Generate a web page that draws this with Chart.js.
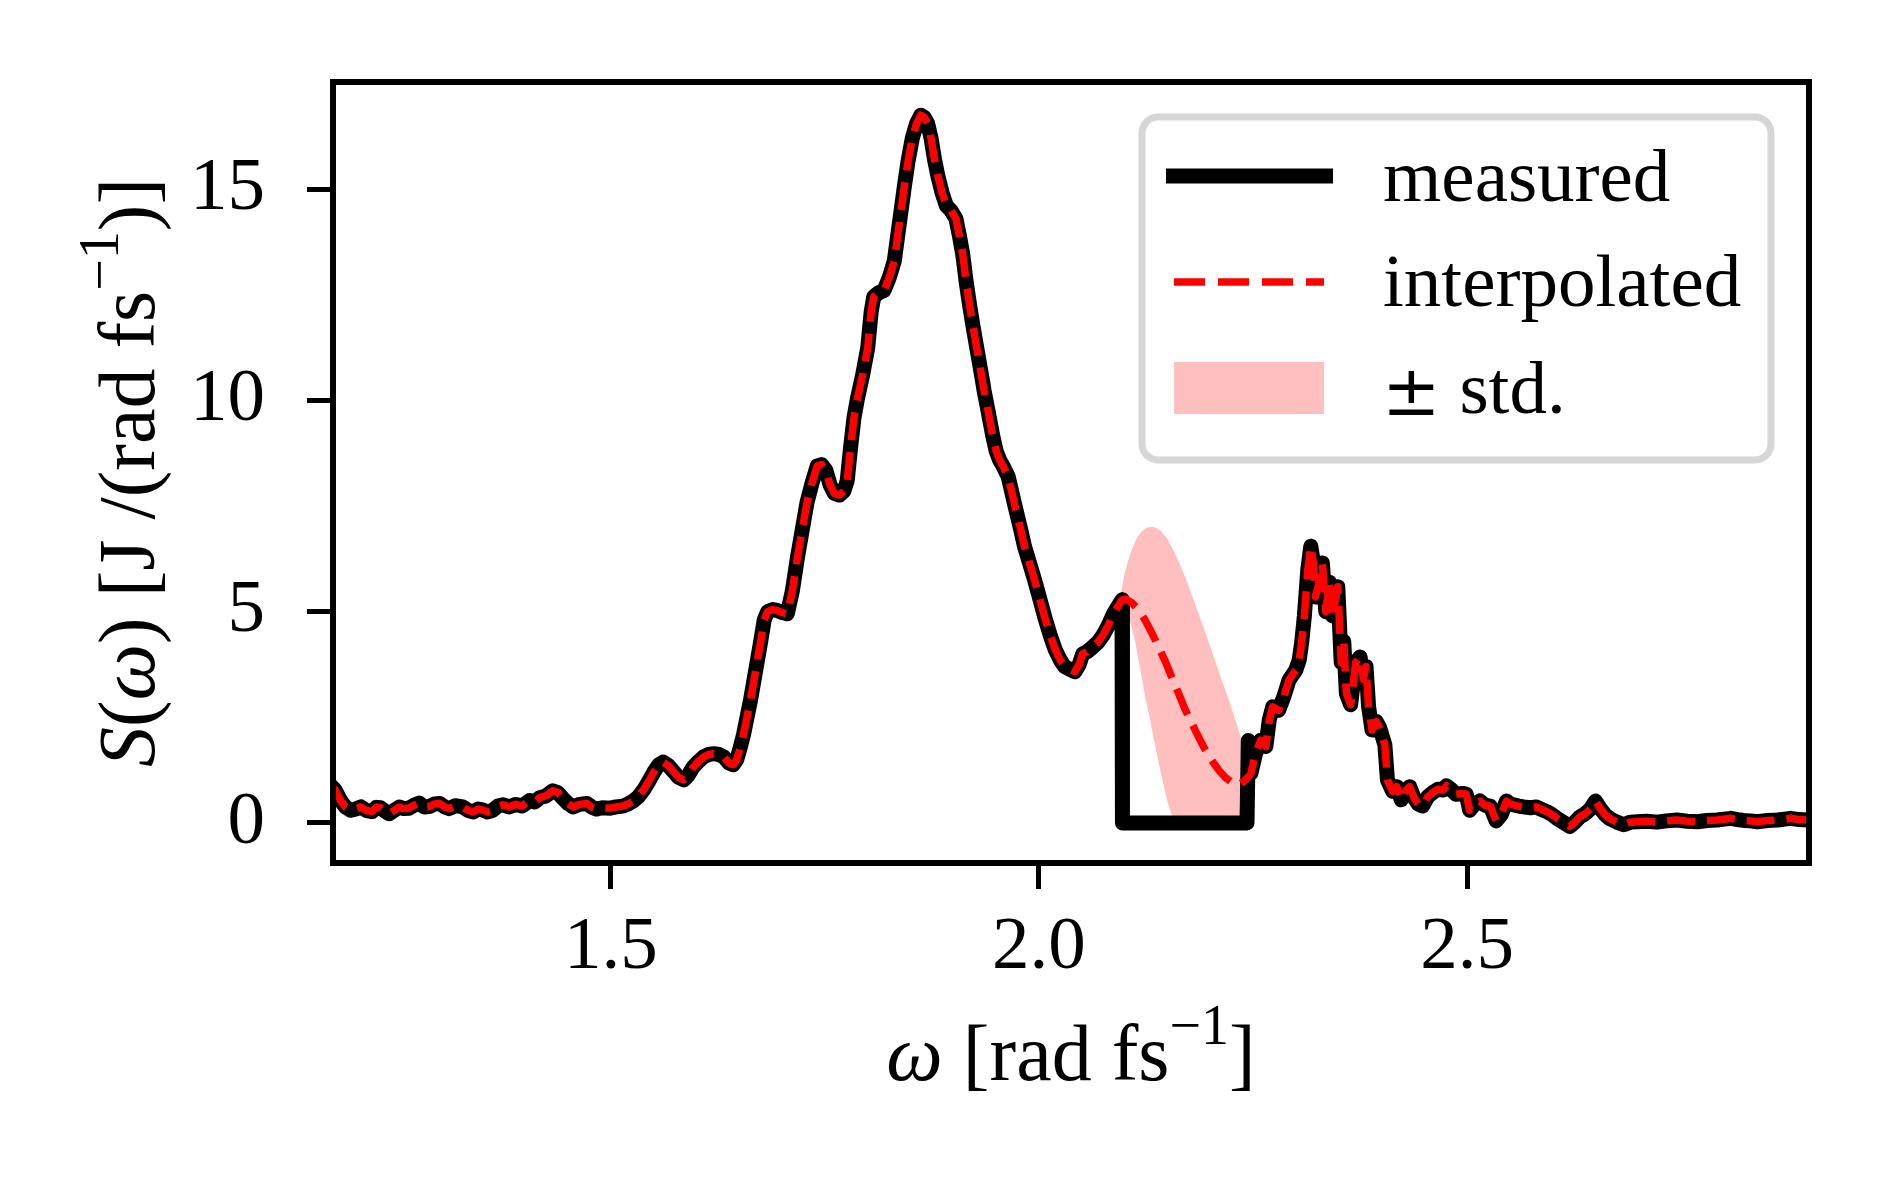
<!DOCTYPE html>
<html lang="en">
<head>
<meta charset="UTF-8">
<title>Spectrum with interpolated gap</title>
<script src="https://cdn.jsdelivr.net/npm/chart.js"></script>
<style>
  html, body { margin: 0; padding: 0; background: #fff; }
  #wrap { width: 1889px; height: 1181px; }
</style>
</head>
<body>
<div id="wrap"><canvas id="spectrum" width="1889" height="1181"></canvas></div>
<script>
// measured spectrum S(omega)
const omega = [
  1.172, 1.178, 1.184, 1.190, 1.196, 1.202, 1.208, 1.214, 1.221, 1.226, 1.231, 1.236, 1.241, 1.247, 1.253,
  1.258, 1.264, 1.270, 1.276, 1.282, 1.288, 1.294, 1.300, 1.306, 1.311, 1.318, 1.327, 1.333, 1.339, 1.345,
  1.350, 1.356, 1.362, 1.368, 1.374, 1.381, 1.389, 1.396, 1.405, 1.411, 1.417, 1.424, 1.432, 1.438, 1.444,
  1.450, 1.456, 1.463, 1.472, 1.478, 1.483, 1.490, 1.499, 1.506, 1.514, 1.520, 1.526, 1.532, 1.538, 1.544,
  1.550, 1.556, 1.561, 1.567, 1.573, 1.579, 1.585, 1.590, 1.596, 1.602, 1.608, 1.614, 1.620, 1.626, 1.632,
  1.638, 1.643, 1.647, 1.651, 1.655, 1.659, 1.663, 1.669, 1.675, 1.679, 1.683, 1.689, 1.694, 1.700, 1.706,
  1.712, 1.718, 1.724, 1.729, 1.735, 1.741, 1.746, 1.751, 1.756, 1.761, 1.767, 1.772, 1.776, 1.780, 1.784,
  1.788, 1.794, 1.800, 1.804, 1.807, 1.813, 1.819, 1.825, 1.831, 1.835, 1.839, 1.843, 1.847, 1.852, 1.857,
  1.862, 1.866, 1.870, 1.874, 1.878, 1.882, 1.887, 1.892, 1.897, 1.903, 1.907, 1.911, 1.915, 1.919, 1.923,
  1.927, 1.932, 1.936, 1.941, 1.946, 1.950, 1.954, 1.958, 1.964, 1.968, 1.972, 1.978, 1.983, 1.989, 1.995,
  2.001, 2.007, 2.013, 2.019, 2.025, 2.030, 2.036, 2.042, 2.047, 2.051, 2.056, 2.062, 2.069, 2.075, 2.081,
  2.087, 2.093, 2.097, 2.0975, 2.243, 2.2445, 2.2476, 2.253, 2.259, 2.265, 2.269, 2.273, 2.280, 2.286, 2.292,
  2.300, 2.304, 2.307, 2.310, 2.314, 2.3175, 2.321, 2.323, 2.326, 2.331, 2.335, 2.339, 2.343, 2.349, 2.353,
  2.356, 2.359, 2.364, 2.370, 2.375, 2.379, 2.382, 2.385, 2.389, 2.394, 2.398, 2.404, 2.407, 2.413, 2.418,
  2.423, 2.428, 2.433, 2.438, 2.443, 2.448, 2.454, 2.460, 2.466, 2.472, 2.476, 2.481, 2.487, 2.495, 2.499,
  2.503, 2.509, 2.515, 2.521, 2.527, 2.534, 2.540, 2.546, 2.550, 2.554, 2.560, 2.566, 2.574, 2.581, 2.587,
  2.593, 2.599, 2.605, 2.612, 2.620, 2.626, 2.632, 2.638, 2.644, 2.650, 2.656, 2.662, 2.667, 2.675, 2.683,
  2.691, 2.699, 2.710, 2.722, 2.733, 2.745, 2.757, 2.769, 2.780, 2.792, 2.800, 2.808, 2.816, 2.823, 2.831,
  2.839, 2.851, 2.863, 2.871, 2.878, 2.888, 2.898, 2.910
];
const sMeasured = [
  0.90, 0.78, 0.54, 0.38, 0.30, 0.33, 0.38, 0.30, 0.27, 0.37, 0.36, 0.28, 0.22, 0.30, 0.38,
  0.34, 0.35, 0.42, 0.47, 0.38, 0.39, 0.45, 0.46, 0.38, 0.34, 0.41, 0.38, 0.30, 0.26, 0.33,
  0.31, 0.26, 0.30, 0.40, 0.43, 0.38, 0.44, 0.40, 0.53, 0.50, 0.60, 0.64, 0.76, 0.72, 0.58,
  0.46, 0.38, 0.44, 0.46, 0.37, 0.33, 0.36, 0.35, 0.38, 0.40, 0.45, 0.52, 0.62, 0.78, 0.98,
  1.20, 1.38, 1.44, 1.36, 1.22, 1.08, 1.02, 1.12, 1.32, 1.45, 1.56, 1.62, 1.64, 1.62, 1.56,
  1.42, 1.38, 1.50, 1.78, 2.10, 2.50, 2.90, 3.60, 4.30, 4.80, 5.00, 5.05, 5.03, 4.98, 4.95,
  5.50, 6.30, 7.00, 7.58, 8.05, 8.45, 8.48, 8.35, 8.00, 7.80, 7.76, 7.85, 8.10, 8.90, 9.60,
  10.05, 10.60, 11.25, 12.10, 12.45, 12.55, 12.60, 12.90, 13.30, 13.90, 14.50, 15.10, 15.65, 16.20, 16.55,
  16.75, 16.70, 16.55, 16.20, 15.70, 15.30, 14.90, 14.60, 14.50, 14.30, 13.90, 13.45, 12.80, 12.25, 11.75,
  11.28, 10.70, 10.22, 9.70, 9.16, 8.80, 8.59, 8.45, 8.20, 7.85, 7.50, 7.00, 6.55, 6.15, 5.74,
  5.30, 4.85, 4.45, 4.10, 3.85, 3.70, 3.64, 3.58, 3.75, 4.00, 4.05, 4.15, 4.28, 4.45, 4.68,
  4.95, 5.15, 5.28, 0.00, 0.00, 1.95, 1.18, 1.65, 1.96, 1.81, 2.44, 2.75, 2.67, 2.99, 3.38,
  3.62, 3.86, 4.30, 4.90, 6.00, 6.55, 6.10, 5.35, 5.60, 6.15, 5.00, 5.70, 4.90, 5.59, 3.80,
  4.30, 3.07, 2.80, 3.80, 3.93, 3.40, 3.70, 2.75, 2.20, 2.40, 2.25, 1.85, 1.02, 0.75, 0.86,
  0.55, 0.75, 0.86, 0.60, 0.45, 0.40, 0.62, 0.72, 0.80, 0.78, 0.88, 0.80, 0.68, 0.70, 0.68,
  0.30, 0.45, 0.52, 0.42, 0.40, 0.05, 0.20, 0.52, 0.45, 0.43, 0.40, 0.38, 0.36, 0.38, 0.32,
  0.27, 0.20, 0.11, 0.02, -0.08, 0.02, 0.15, 0.22, 0.33, 0.52, 0.33, 0.18, 0.10, 0.02, -0.04,
  0.02, 0.03, 0.04, 0.02, 0.05, 0.07, 0.04, 0.03, 0.06, 0.07, 0.09, 0.11, 0.08, 0.06, 0.05,
  0.03, 0.06, 0.07, 0.09, 0.11, 0.08, 0.07, 0.09
];

// interpolated curve across the missing gap
const gapOmega = [2.097, 2.101, 2.108, 2.116, 2.124, 2.132, 2.140, 2.148, 2.155, 2.163, 2.170,
                  2.177, 2.184, 2.190, 2.197, 2.204, 2.210, 2.218, 2.226, 2.2335, 2.240, 2.245];
const gapInterp = [5.28, 5.30, 5.22, 5.05, 4.80, 4.49, 4.15, 3.80, 3.45, 3.07, 2.72,
                   2.42, 2.13, 1.89, 1.63, 1.42, 1.25, 1.07, 0.95, 0.90, 1.00, 1.10];

// +/- std band of the interpolation
const bandOmega = [2.095, 2.100, 2.104, 2.108, 2.112, 2.116, 2.120, 2.124, 2.128, 2.134, 2.142, 2.150,
                   2.158, 2.166, 2.174, 2.182, 2.190, 2.198, 2.206, 2.214, 2.222, 2.230, 2.2365];
const bandLower = [5.35, 5.10, 4.95, 4.65, 4.33, 3.90, 3.45, 2.99, 2.62, 2.00, 1.22, 0.50,
                   0.00, 0.00, 0.00, 0.00, 0.00, 0.00, 0.00, 0.00, 0.00, 0.00, 0.00];
const bandUpper = [5.35, 5.90, 6.20, 6.45, 6.65, 6.80, 6.90, 6.96, 7.00, 7.01, 6.92, 6.72,
                   6.42, 6.05, 5.65, 5.20, 4.75, 4.30, 3.82, 3.35, 2.90, 2.40, 1.95];

// axes
const xTicks = [1.5, 2.0, 2.5];
const xTickLabels = ['1.5', '2.0', '2.5'];
const yTicks = [0, 5, 10, 15];
const yTickLabels = ['0', '5', '10', '15'];
const seriesLabels = ['measured', 'interpolated', 'std.'];

const X_MIN = 1.1754, X_MAX = 2.8994;
const Y_MIN = -0.947, Y_MAX = 17.535;
const FONT = '"Liberation Serif", "Times New Roman", serif';
const FS = 75;     // tick and legend text
const TFS = 80;    // axis titles

// build point lists for the library
const measuredPts = omega.map((x, i) => ({ x: x, y: sMeasured[i] }));
const interpPts = [];
omega.forEach((x, i) => { if (x < gapOmega[0]) interpPts.push({ x: x, y: sMeasured[i] }); });
gapOmega.forEach((x, i) => interpPts.push({ x: x, y: gapInterp[i] }));
omega.forEach((x, i) => { if (x > gapOmega[gapOmega.length - 1]) interpPts.push({ x: x, y: sMeasured[i] }); });
const lowerPts = bandOmega.map((x, i) => ({ x: x, y: bandLower[i] }));
const upperPts = bandOmega.map((x, i) => ({ x: x, y: bandUpper[i] }));

// draw a line of text made of runs (italic / superscript), centred on cx
function drawRuns(ctx, runs, cx, baseY) {
  const font = r => (r.it ? 'italic ' : '') + Math.round(r.sup ? TFS * 0.7 : TFS) + 'px ' + FONT;
  let total = 0;
  runs.forEach(r => { ctx.font = font(r); r.w = ctx.measureText(r.t).width; total += r.w; });
  let x = cx - total / 2;
  ctx.textAlign = 'left';
  ctx.textBaseline = 'alphabetic';
  runs.forEach(r => {
    ctx.font = font(r);
    ctx.fillText(r.t, x, baseY - (r.sup ? 36 : 0));
    x += r.w;
  });
}

const decorations = {
  id: 'decorations',
  afterDraw(chart) {
    const ctx = chart.ctx;
    const a = chart.chartArea;
    ctx.save();
    // frame on all four sides
    ctx.strokeStyle = '#000';
    ctx.lineWidth = 6;
    ctx.strokeRect(a.left, a.top, a.right - a.left, a.bottom - a.top);

    ctx.fillStyle = '#000';
    // x axis title
    drawRuns(ctx, [
      { t: '\u03c9', it: true },
      { t: ' [rad fs' },
      { t: '\u22121', sup: true },
      { t: ']' }
    ], (a.left + a.right) / 2, 1080);

    // y axis title, rotated
    ctx.save();
    ctx.translate(154, (a.top + a.bottom) / 2);
    ctx.rotate(-Math.PI / 2);
    drawRuns(ctx, [
      { t: 'S', it: true },
      { t: '(' },
      { t: '\u03c9', it: true },
      { t: ') [J /(rad fs' },
      { t: '\u22121', sup: true },
      { t: ')]' }
    ], 0, 0);
    ctx.restore();

    // legend
    const bx = 1142, by = 117, bw = 629, bh = 343;
    ctx.beginPath();
    ctx.roundRect(bx, by, bw, bh, 16);
    ctx.fillStyle = 'rgba(255,255,255,0.8)';
    ctx.fill();
    ctx.lineWidth = 7;
    ctx.strokeStyle = '#d6d6d6';
    ctx.stroke();

    ctx.lineCap = 'butt';
    ctx.beginPath();
    ctx.moveTo(1166, 176); ctx.lineTo(1333, 176);
    ctx.lineWidth = 15; ctx.strokeStyle = '#000'; ctx.stroke();

    ctx.beginPath();
    ctx.setLineDash([31, 13]);
    ctx.moveTo(1174, 282); ctx.lineTo(1324, 282);
    ctx.lineWidth = 7.5; ctx.strokeStyle = '#ff0000'; ctx.stroke();
    ctx.setLineDash([]);

    ctx.fillStyle = '#ffbfbf';
    ctx.fillRect(1174, 362, 150, 52);

    ctx.fillStyle = '#000';
    ctx.textAlign = 'left';
    ctx.textBaseline = 'alphabetic';
    ctx.font = FS + 'px ' + FONT;
    ctx.fillText(seriesLabels[0], 1383, 201);
    ctx.fillText(seriesLabels[1], 1383, 306);
    ctx.font = '70px "DejaVu Serif"';
    ctx.fillText('\u00b1', 1382, 415);
    const pmW = ctx.measureText('\u00b1').width;
    ctx.font = FS + 'px ' + FONT;
    ctx.fillText(' ' + seriesLabels[2], 1382 + pmW, 413);
    ctx.restore();
  }
};

new Chart(document.getElementById('spectrum').getContext('2d'), {
  type: 'line',
  data: {
    datasets: [
      {
        label: seriesLabels[1], data: interpPts,
        borderColor: '#ff0000', borderWidth: 7.5, borderDash: [28, 12], borderCapStyle: 'butt',
        borderJoinStyle: 'round', pointRadius: 0, fill: false, tension: 0, order: 0, clip: 0
      },
      {
        label: seriesLabels[0], data: measuredPts,
        borderColor: '#000000', borderWidth: 15, borderJoinStyle: 'round', borderCapStyle: 'round',
        pointRadius: 0, fill: false, tension: 0, order: 1, clip: 0
      },
      {
        label: 'std lower', data: lowerPts,
        borderWidth: 0, borderColor: 'rgba(0,0,0,0)', pointRadius: 0, fill: false, order: 3, clip: 0
      },
      {
        label: '\u00b1 ' + seriesLabels[2], data: upperPts,
        borderWidth: 0, borderColor: 'rgba(0,0,0,0)', backgroundColor: '#ffbfbf',
        pointRadius: 0, fill: '-1', order: 2, clip: 0
      }
    ]
  },
  options: {
    responsive: false,
    animation: false,
    devicePixelRatio: 1,
    layout: { padding: { top: 82, right: 80, left: 0, bottom: 0 } },
    plugins: { legend: { display: false }, tooltip: { enabled: false } },
    scales: {
      x: {
        type: 'linear', min: X_MIN, max: X_MAX,
        afterBuildTicks: s => { s.ticks = xTicks.map(v => ({ value: v })); },
        afterFit: s => { s.height = 318; s.paddingLeft = 0; s.paddingRight = 0; },
        border: { display: false },
        grid: { display: true, drawOnChartArea: false, drawTicks: true, tickLength: 26, tickWidth: 5, tickColor: '#000' },
        ticks: {
          color: '#000', font: { family: FONT, size: FS }, padding: 14, maxRotation: 0, autoSkip: false,
          callback: v => xTickLabels[xTicks.indexOf(v)]
        }
      },
      y: {
        type: 'linear', min: Y_MIN, max: Y_MAX,
        afterBuildTicks: s => { s.ticks = yTicks.map(v => ({ value: v })); },
        afterFit: s => { s.width = 333; s.paddingTop = 0; s.paddingBottom = 0; },
        border: { display: false },
        grid: { display: true, drawOnChartArea: false, drawTicks: true, tickLength: 26, tickWidth: 5, tickColor: '#000' },
        ticks: {
          color: '#000', font: { family: FONT, size: FS }, padding: 42, autoSkip: false,
          callback: v => yTickLabels[yTicks.indexOf(v)]
        }
      }
    }
  },
  plugins: [decorations]
});
</script>
</body>
</html>
